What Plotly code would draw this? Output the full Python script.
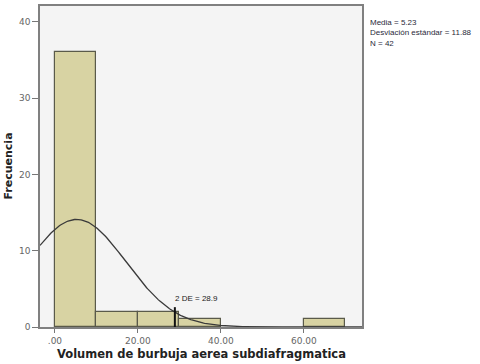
import numpy as np
import plotly.graph_objects as go

bin_starts = [0, 10, 20, 30, 60]
counts = [36, 2, 2, 1, 1]
bin_width = 10
mean_val = 5.23
sd_val = 11.88
n_val = 42
two_sd = 28.9
x_ticks = [0, 20, 40, 60]
x_tick_labels = [".00", "20.00", "40.00", "60.00"]
y_ticks = [0, 10, 20, 30, 40]
stats = ["Media = 5.23", "Desviación estándar = 11.88", "N = 42"]

x_range = [-3.6, 74.0]
y_range = [0, 42.08]

fig = go.Figure()
fig.add_trace(go.Bar(
    x=[s + bin_width / 2 for s in bin_starts], y=counts, width=bin_width,
    marker=dict(color="#D8D3A3", line=dict(color="#5a5a4a", width=1.2)),
    hoverinfo="skip", showlegend=False))

xs = np.linspace(x_range[0], x_range[1], 300)
ys = n_val * bin_width / (sd_val * np.sqrt(2 * np.pi)) * np.exp(-0.5 * ((xs - mean_val) / sd_val) ** 2)
fig.add_trace(go.Scatter(x=xs, y=ys, mode="lines", line=dict(color="#3a3a3a", width=1.3),
                         hoverinfo="skip", showlegend=False))

fig.add_trace(go.Scatter(x=[two_sd, two_sd], y=[0, 2.6], mode="lines",
                         line=dict(color="#111111", width=2), hoverinfo="skip", showlegend=False))

fig.add_annotation(x=two_sd, y=3.8, xref="x", yref="y", text="2 DE = 28.9", showarrow=False,
                   xanchor="left", yanchor="middle", xshift=-2,
                   font=dict(family="Liberation Sans", size=8, color="#222222"))

def py(p):
    return (327 - p) / 323.0

fig.add_annotation(x=(368 - 40) / 322.0, y=py(14), xref="paper", yref="paper",
                   text="<br>".join(stats), showarrow=False, xanchor="left", yanchor="top",
                   align="left",
                   font=dict(family="Liberation Sans", size=8, color="#2a2a3a"))

fig.add_annotation(x=0.5, y=py(354), xref="paper", yref="paper",
                   text="<b>Volumen de burbuja aerea subdiafragmatica</b>", showarrow=False,
                   xanchor="center", yanchor="middle",
                   font=dict(family="DejaVu Sans", size=11.5, color="#222222"))
fig.add_annotation(x=(8 - 40) / 322.0, y=0.5, xref="paper", yref="paper",
                   text="<b>Frecuencia</b>", showarrow=False, textangle=-90,
                   xanchor="center", yanchor="middle",
                   font=dict(family="DejaVu Sans", size=11, color="#222222"))

fig.update_layout(
    width=480, height=364,
    margin=dict(l=40, r=118, t=4, b=37),
    paper_bgcolor="white", plot_bgcolor="#F4F4F4",
    bargap=0,
    xaxis=dict(range=x_range, tickvals=x_ticks, ticktext=x_tick_labels, ticks="outside",
               ticklen=4, tickcolor="#777777", showgrid=False, zeroline=False,
               showline=True, linecolor="#808080", linewidth=1.5, mirror=True,
               tickfont=dict(family="DejaVu Sans", size=9, color="#666666")),
    yaxis=dict(range=y_range, tickvals=y_ticks, ticks="outside", ticklen=6, tickcolor="#777777",
               showgrid=False, zeroline=False, showline=True, linecolor="#808080", linewidth=1.5,
               mirror=True, tickfont=dict(family="DejaVu Sans", size=9, color="#666666")),
)

fig.write_html("out.html", config={"displayModeBar": False},
               post_script="document.body.style.margin='0';document.body.style.overflow='hidden';")
